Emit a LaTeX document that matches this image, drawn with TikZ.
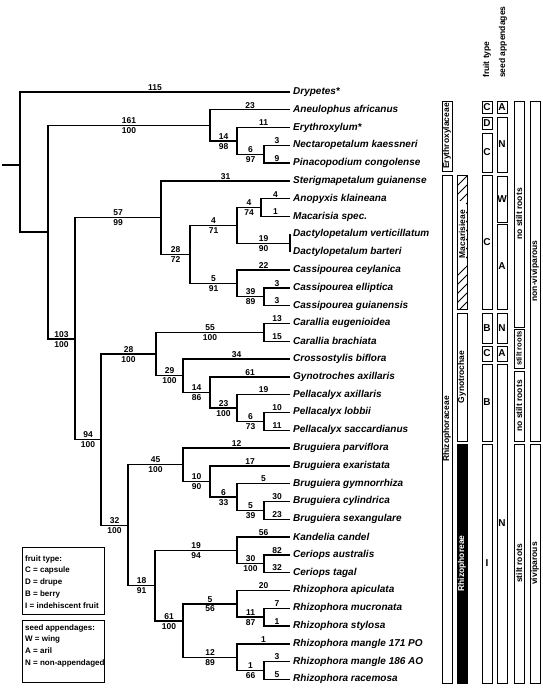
\documentclass[tikz,border=0pt]{standalone}
\usepackage{fontspec}
\setmainfont{Liberation Sans}
\newcommand{\numf}{\fontsize{8.5}{10}\selectfont\bfseries}
\newcommand{\taxf}{\fontsize{10}{12}\selectfont\bfseries\itshape}
\newcommand{\barf}{\fontsize{8.5}{10}\selectfont\bfseries}
\newcommand{\smbarf}{\fontsize{7.6}{9}\selectfont\bfseries}
\newcommand{\letf}{\fontsize{10}{12}\selectfont\bfseries}
\newcommand{\legf}{\fontsize{8}{11.75}\selectfont\bfseries}
\newcommand{\tbr}[4]{\draw[branch] (#1) |- (#2) node[pos=0.75,lenlab]{#3} node[pos=0.75,bootlab]{#4};}
\newcommand{\tleaf}[3]{\draw[branch] (#1) |- (#2) node[pos=0.75,lenlab]{#3};}
\newcommand{\rbar}[5]{\node[barbox, minimum width={(#4)-(#3)}] (#1) at (#2,{((#3)+(#4))/2}) {#5};}
\newcommand{\lbox}[5]{\node[letbox, minimum height={(#4)-(#3)}] (#1) at (#2,{((#3)+(#4))/2}) {#5};}
\begin{document}
\begin{tikzpicture}[x=1pt,y=-1pt,
 branch/.style={line width=1.4pt},
 lenlab/.style={above, inner sep=1pt, font=\numf},
 bootlab/.style={below, inner sep=1.5pt, font=\numf},
 taxon/.style={anchor=west, inner sep=1pt, xshift=2pt, font=\taxf},
 barbox/.style={draw, line width=0.8pt, rotate=90, minimum height=10pt, inner sep=0pt, font=\barf},
 letbox/.style={draw, line width=0.8pt, minimum width=10pt, inner sep=0pt, font=\letf},
 legbox/.style={draw, line width=0.8pt, minimum width=82pt, anchor=north west, inner sep=0pt},
 legtext/.style={anchor=north west, align=left, font=\legf, inner sep=0pt},
 header/.style={rotate=90, anchor=west, font=\barf, inner sep=0pt}
 ]
\useasboundingbox (0,0) rectangle (542,692);
% leaves
\foreach \i in {1,...,34} {\coordinate (L\i) at (290,{92+(\i-1)*17.8});}
% internal nodes
\coordinate (stub) at (2,165);
\coordinate (R) at (20,165);
\coordinate (E0) at (48,232);
\coordinate (ERY) at (210,125.4);
\coordinate (N14) at (237,141);
\coordinate (N6a) at (264,154.3);
\coordinate (RHZ) at (75,339);
\coordinate (N57) at (161,217.7);
\coordinate (N28a) at (190,254.4);
\coordinate (N4a) at (237,225.5);
\coordinate (N4b) at (261,207.7);
\coordinate (N19a) at (290,243.3);
\coordinate (N5a) at (237,283.4);
\coordinate (N39) at (264,296.7);
\coordinate (N94) at (101,439.6);
\coordinate (N28b) at (156,354);
\coordinate (N55) at (264,332.3);
\coordinate (N29) at (183,375.7);
\coordinate (N14b) at (210,392.4);
\coordinate (N23) at (237,408);
\coordinate (N6b) at (264,421.3);
\coordinate (N32) at (128,525.2);
\coordinate (N45) at (183,464.7);
\coordinate (N10) at (210,481.4);
\coordinate (N6c) at (237,497);
\coordinate (N5b) at (264,510.3);
\coordinate (N18) at (155,585.7);
\coordinate (N19b) at (237,550.4);
\coordinate (N30) at (264,563.7);
\coordinate (N61) at (183,621);
\coordinate (N5c) at (237,603.8);
\coordinate (N11) at (264,617.1);
\coordinate (N12) at (237,657.2);
\coordinate (N1) at (264,670.5);
% branches
\draw[branch] (stub) -- (R);
\tleaf{R}{L1}{115}
\draw[branch] (R) |- (E0);
\tbr{E0}{ERY}{161}{100}
\tleaf{ERY}{L2}{23}
\tbr{ERY}{N14}{14}{98}
\tleaf{N14}{L3}{11}
\tbr{N14}{N6a}{6}{97}
\tleaf{N6a}{L4}{3}
\tleaf{N6a}{L5}{9}
\tbr{E0}{RHZ}{103}{100}
\tbr{RHZ}{N57}{57}{99}
\tleaf{N57}{L6}{31}
\tbr{N57}{N28a}{28}{72}
\tbr{N28a}{N4a}{4}{71}
\tbr{N4a}{N4b}{4}{74}
\tleaf{N4b}{L7}{4}
\tleaf{N4b}{L8}{1}
\tbr{N4a}{N19a}{19}{90}
\draw[branch] (N19a) -- (L9);
\draw[branch] (N19a) -- (L10);
\tbr{N28a}{N5a}{5}{91}
\tleaf{N5a}{L11}{22}
\tbr{N5a}{N39}{39}{89}
\tleaf{N39}{L12}{3}
\tleaf{N39}{L13}{3}
\tbr{RHZ}{N94}{94}{100}
\tbr{N94}{N28b}{28}{100}
\tbr{N28b}{N55}{55}{100}
\tleaf{N55}{L14}{13}
\tleaf{N55}{L15}{15}
\tbr{N28b}{N29}{29}{100}
\tleaf{N29}{L16}{34}
\tbr{N29}{N14b}{14}{86}
\tleaf{N14b}{L17}{61}
\tbr{N14b}{N23}{23}{100}
\tleaf{N23}{L18}{19}
\tbr{N23}{N6b}{6}{73}
\tleaf{N6b}{L19}{10}
\tleaf{N6b}{L20}{11}
\tbr{N94}{N32}{32}{100}
\tbr{N32}{N45}{45}{100}
\tleaf{N45}{L21}{12}
\tbr{N45}{N10}{10}{90}
\tleaf{N10}{L22}{17}
\tbr{N10}{N6c}{6}{33}
\tleaf{N6c}{L23}{5}
\tbr{N6c}{N5b}{5}{39}
\tleaf{N5b}{L24}{30}
\tleaf{N5b}{L25}{23}
\tbr{N32}{N18}{18}{91}
\tbr{N18}{N19b}{19}{94}
\tleaf{N19b}{L26}{56}
\tbr{N19b}{N30}{30}{100}
\tleaf{N30}{L27}{82}
\tleaf{N30}{L28}{32}
\tbr{N18}{N61}{61}{100}
\tbr{N61}{N5c}{5}{56}
\tleaf{N5c}{L29}{20}
\tbr{N5c}{N11}{11}{87}
\tleaf{N11}{L30}{7}
\tleaf{N11}{L31}{1}
\tbr{N61}{N12}{12}{89}
\tleaf{N12}{L32}{1}
\tbr{N12}{N1}{1}{66}
\tleaf{N1}{L33}{3}
\tleaf{N1}{L34}{5}
% taxon names
\node[taxon] (T1) at (L1) {Drypetes*};
\node[taxon] (T2) at (L2) {Aneulophus africanus};
\node[taxon] (T3) at (L3) {Erythroxylum*};
\node[taxon] (T4) at (L4) {Nectaropetalum kaessneri};
\node[taxon] (T5) at (L5) {Pinacopodium congolense};
\node[taxon] (T6) at (L6) {Sterigmapetalum guianense};
\node[taxon] (T7) at (L7) {Anopyxis klaineana};
\node[taxon] (T8) at (L8) {Macarisia spec.};
\node[taxon] (T9) at (L9) {Dactylopetalum verticillatum};
\node[taxon] (T10) at (L10) {Dactylopetalum barteri};
\node[taxon] (T11) at (L11) {Cassipourea ceylanica};
\node[taxon] (T12) at (L12) {Cassipourea elliptica};
\node[taxon] (T13) at (L13) {Cassipourea guianensis};
\node[taxon] (T14) at (L14) {Carallia eugenioidea};
\node[taxon] (T15) at (L15) {Carallia brachiata};
\node[taxon] (T16) at (L16) {Crossostylis biflora};
\node[taxon] (T17) at (L17) {Gynotroches axillaris};
\node[taxon] (T18) at (L18) {Pellacalyx axillaris};
\node[taxon] (T19) at (L19) {Pellacalyx lobbii};
\node[taxon] (T20) at (L20) {Pellacalyx saccardianus};
\node[taxon] (T21) at (L21) {Bruguiera parviflora};
\node[taxon] (T22) at (L22) {Bruguiera exaristata};
\node[taxon] (T23) at (L23) {Bruguiera gymnorrhiza};
\node[taxon] (T24) at (L24) {Bruguiera cylindrica};
\node[taxon] (T25) at (L25) {Bruguiera sexangulare};
\node[taxon] (T26) at (L26) {Kandelia candel};
\node[taxon] (T27) at (L27) {Ceriops australis};
\node[taxon] (T28) at (L28) {Ceriops tagal};
\node[taxon] (T29) at (L29) {Rhizophora apiculata};
\node[taxon] (T30) at (L30) {Rhizophora mucronata};
\node[taxon] (T31) at (L31) {Rhizophora stylosa};
\node[taxon] (T32) at (L32) {Rhizophora mangle 171 PO};
\node[taxon] (T33) at (L33) {Rhizophora mangle 186 AO};
\node[taxon] (T34) at (L34) {Rhizophora racemosa};
% headers
\node[header] (hfruit) at (487,78) {fruit type};
\node[header] (hseed) at (503,78) {seed appendages};
% family column
\rbar{fEry}{447}{101}{171}{Erythroxylaceae}
\rbar{fRhz}{447}{175}{683}{Rhizophoraceae}
% tribe column
\begin{scope}
\clip (457,175) rectangle (467,309);
\foreach \k in {0,...,16} {\draw[line width=1pt] (457,{186+\k*9}) -- (467,{176+\k*9});}
\end{scope}
\node[rotate=90, fill=white, inner xsep=9pt, inner ysep=0.5pt, font=\barf] (tMacl) at (462,234) {Macarisieae};
\rbar{tMac}{462}{175}{309}{}
\rbar{tGyn}{462}{313}{441}{Gynotrochae}
\node[barbox, fill=black, text=white, minimum width=239pt] (tRhe) at (462,563.5) {Rhizophoreae};
% fruit type column
\lbox{fr1}{487}{101}{113}{C}
\lbox{fr2}{487}{117}{129}{D}
\lbox{fr3}{487}{133}{172}{C}
\lbox{fr4}{487}{175}{309}{C}
\lbox{fr5}{487}{313}{343}{B}
\lbox{fr6}{487}{346}{361}{C}
\lbox{fr7}{487}{364}{441}{B}
\lbox{fr8}{487}{444}{683}{I}
% seed appendage column
\lbox{sa1}{502}{101}{113}{A}
\lbox{sa2}{502}{117}{172}{N}
\lbox{sa3}{502}{176}{222}{W}
\lbox{sa4}{502}{224}{309}{A}
\lbox{sa5}{502}{313}{343}{N}
\lbox{sa6}{502}{346}{361}{A}
\lbox{sa7}{502}{364}{683}{N}
% stilt roots column
\rbar{st1}{519}{101}{327}{no stilt roots}
\node[barbox, font=\smbarf, minimum width=39pt] (st2) at (519,348.5) {stilt roots};
\rbar{st3}{519}{371}{441}{no stilt roots}
\rbar{st4}{519}{444}{683}{stilt roots}
% vivipary column
\rbar{vi1}{535}{101}{441}{non-viviparous}
\rbar{vi2}{535}{444}{683}{viviparous}
% legends
\node[legbox, minimum height=67pt] (legF) at (22,547) {};
\node[legtext] (legFt) at (25,555) {fruit type:\\C = capsule\\D = drupe\\B = berry\\I = indehiscent fruit};
\node[legbox, minimum height=62pt] (legS) at (22,620) {};
\node[legtext] (legSt) at (25,624) {seed appendages:\\W = wing\\A = aril\\N = non-appendaged};
\end{tikzpicture}
\end{document}
